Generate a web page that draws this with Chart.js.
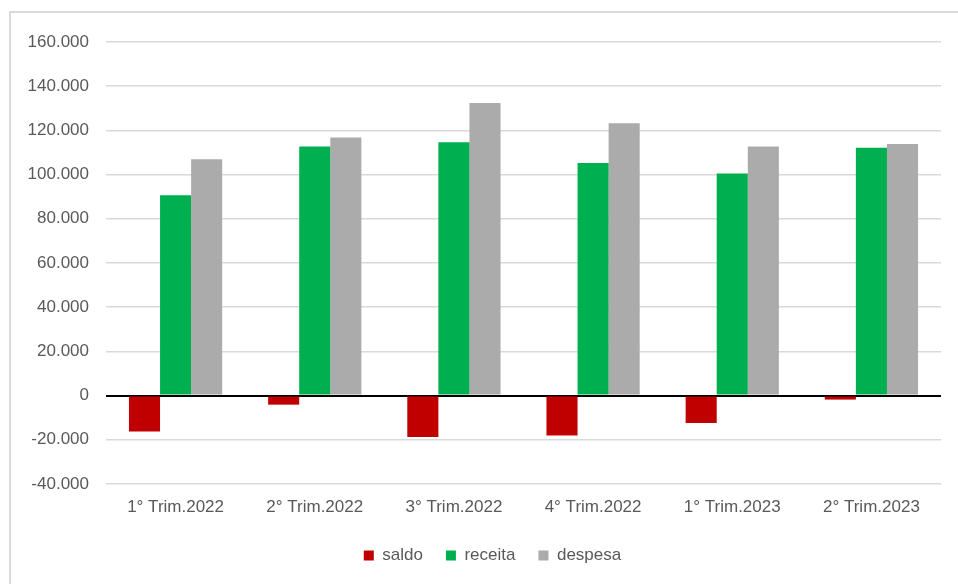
<!DOCTYPE html>
<html>
<head>
<meta charset="utf-8">
<script src="https://cdn.jsdelivr.net/npm/chart.js@4/dist/chart.umd.min.js"></script>
<style>
  html, body { margin: 0; padding: 0; background: #ffffff; overflow: hidden; }
  #frame { position: absolute; left: 9px; top: 11px; width: 1000px; height: 700px; border: 2px solid #d9d9d9; box-sizing: border-box; }
  #wrap { position: absolute; left: 0; top: 0; width: 958px; height: 584px; }
</style>
</head>
<body>
<div id="frame"></div>
<div id="wrap"><canvas id="c" width="958" height="584"></canvas></div>
<script>
const categories = ["1° Trim.2022", "2° Trim.2022", "3° Trim.2022", "4° Trim.2022", "1° Trim.2023", "2° Trim.2023"];
const saldo   = [-16300, -4100, -18700, -18100, -12400, -1800];
const receita = [90700, 112700, 114600, 105200, 100500, 112200];
const despesa = [106900, 116800, 132400, 123200, 112700, 113800];
const seriesNames = ["saldo", "receita", "despesa"];

function fmt(v) {
  const s = Math.abs(Math.round(v)).toString().replace(/\B(?=(\d{3})+(?!\d))/g, ".");
  return (v < 0 ? "-" : "") + s;
}

const FONT = { family: "'Liberation Sans', Arial, sans-serif", size: 17 };
const TXT = "#595959";

const legendShift = {
  id: "legendShift",
  afterLayout(chart) {
    if (chart.legend) { chart.legend.left += 9; chart.legend.right += 9; }
  }
};

new Chart(document.getElementById("c"), {
  type: "bar",
  data: {
    labels: categories,
    datasets: [
      { label: seriesNames[0], data: saldo,   backgroundColor: "#c00000" },
      { label: seriesNames[1], data: receita, backgroundColor: "#00b050" },
      { label: seriesNames[2], data: despesa, backgroundColor: "#ababab" }
    ]
  },
  plugins: [legendShift],
  options: {
    responsive: false,
    animation: false,
    devicePixelRatio: 1,
    datasets: { bar: { categoryPercentage: 0.67, barPercentage: 1.0 } },
    layout: { padding: { left: 26, right: 17, top: 42, bottom: 10 } },
    plugins: {
      tooltip: { enabled: false },
      legend: {
        position: "bottom",
        labels: { boxWidth: 10, boxHeight: 10, padding: 23, color: TXT, font: FONT }
      }
    },
    scales: {
      x: {
        grid: { display: false, drawTicks: false },
        border: { display: false },
        ticks: { color: TXT, font: FONT, padding: 13, maxRotation: 0 },
        afterFit: (s) => { s.height = 40; }
      },
      y: {
        min: -40000, max: 160000,
        ticks: { stepSize: 20000, color: TXT, font: FONT, padding: 17, callback: (v) => fmt(v) },
        grid: {
          drawTicks: false,
          color: (ctx) => (ctx.tick && ctx.tick.value === 0) ? "#000000" : "#d9d9d9",
          lineWidth: (ctx) => (ctx.tick && ctx.tick.value === 0) ? 2 : 1.5
        },
        border: { display: false },
        afterFit: (s) => { s.width = 80; }
      }
    }
  }
});
</script>
</body>
</html>
